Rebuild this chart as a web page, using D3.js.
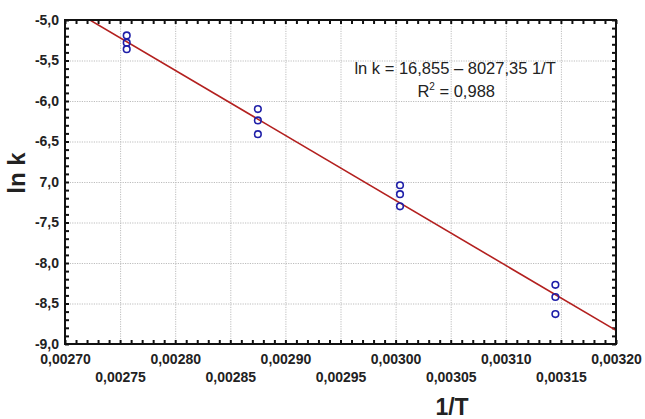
<!DOCTYPE html>
<html>
<head>
<meta charset="utf-8">
<script src="https://cdn.jsdelivr.net/npm/d3@7"></script>
<style>
  body { margin: 0; background: #fff; }
  svg { display: block; font-family: "Liberation Sans", Arial, sans-serif; }
  .lbl text { font-weight: bold; font-size: 14px; fill: #222; }
  .grid line { stroke: #bdbdbd; stroke-dasharray: 1.2,1.2; }
  .minor line { stroke: #111; stroke-width: 2; }
  .domain { display: none; }
</style>
</head>
<body>
<svg id="chart" width="645" height="419"></svg>
<script>
// measured points (1/T, ln k)
var invT = [0.002756, 0.002756, 0.002756,
            0.002875, 0.002875, 0.002875,
            0.003004, 0.003004, 0.003004,
            0.003145, 0.003145, 0.003145];
var lnK = [-5.19, -5.28, -5.36,
           -6.10, -6.24, -6.41,
           -7.04, -7.15, -7.30,
           -8.27, -8.42, -8.63];

// regression ln k = a + b * (1/T)
var fitA = 16.855, fitB = -8027.35;

var xTicks = [0.0027, 0.00275, 0.0028, 0.00285, 0.0029, 0.00295, 0.003, 0.00305, 0.0031, 0.00315, 0.0032];
var xTickLabels = ["0,00270", "0,00275", "0,00280", "0,00285", "0,00290", "0,00295",
                   "0,00300", "0,00305", "0,00310", "0,00315", "0,00320"];
var yTicks = [-9, -8.5, -8, -7.5, -7, -6.5, -6, -5.5, -5];
var yTickLabels = ["-9,0", "-8,5", "-8,0", "-7,5", "7,0", "-6,5", "-6,0", "-5,5", "-5,0"];

var svg = d3.select("#chart"),
  margin = { top: 20, right: 29, bottom: 75, left: 65 },
  width = +svg.attr("width") - margin.left - margin.right,
  height = +svg.attr("height") - margin.top - margin.bottom;

var x = d3.scaleLinear().domain([0.0027, 0.0032]).range([0, width]),
  y = d3.scaleLinear().domain([-9, -5]).range([height, 0]);

var g = svg.append("g")
  .attr("transform", "translate(" + margin.left + "," + margin.top + ")");

// dotted grid
g.append("g").attr("class", "grid")
  .attr("transform", "translate(0," + height + ")")
  .call(d3.axisBottom(x).tickValues(xTicks).tickSize(-height).tickFormat(""));
g.append("g").attr("class", "grid")
  .call(d3.axisLeft(y).tickValues(yTicks).tickSize(-width).tickFormat(""));

// minor ticks, inward on all four sides
var xMinor = d3.range(0, 51).map(function(i) { return 0.0027 + i * 0.00001; });
var yMinor = d3.range(0, 41).map(function(i) { return -9 + i * 0.1; });

g.append("g").attr("class", "minor")
  .attr("transform", "translate(0," + height + ")")
  .call(d3.axisBottom(x).tickValues(xMinor).tickSize(-4).tickFormat(""));
g.append("g").attr("class", "minor")
  .call(d3.axisTop(x).tickValues(xMinor).tickSize(-4).tickFormat(""));
g.append("g").attr("class", "minor")
  .call(d3.axisLeft(y).tickValues(yMinor).tickSize(-4).tickFormat(""));
g.append("g").attr("class", "minor")
  .attr("transform", "translate(" + width + ",0)")
  .call(d3.axisRight(y).tickValues(yMinor).tickSize(-4).tickFormat(""));

// tick labels
g.append("g").attr("class", "lbl")
  .call(d3.axisLeft(y).tickValues(yTicks).tickSize(0).tickPadding(6)
    .tickFormat(function(d, i) { return yTickLabels[i]; }))
  .selectAll("text").attr("dy", "0.3em");

var xl = g.append("g").attr("class", "lbl")
  .attr("transform", "translate(0," + height + ")")
  .call(d3.axisBottom(x).tickValues(xTicks).tickSize(0)
    .tickFormat(function(d, i) { return xTickLabels[i]; }));
xl.selectAll("text")
  .attr("y", function(d, i) { return i % 2 === 0 ? 10 : 28; })
  .attr("dy", "0.71em");

// clip for the fit line
svg.append("defs").append("clipPath").attr("id", "clip")
  .append("rect").attr("width", width).attr("height", height);

var line = d3.line()
  .x(function(d) { return x(d); })
  .y(function(d) { return y(fitA + fitB * d); });

g.append("path")
  .datum([0.0027, 0.0032])
  .attr("clip-path", "url(#clip)")
  .attr("d", line)
  .attr("fill", "none")
  .attr("stroke", "#b3201f")
  .attr("stroke-width", 1.6);

g.selectAll(".pt")
  .data(invT)
  .enter().append("circle")
  .attr("class", "pt")
  .attr("cx", function(d) { return x(d); })
  .attr("cy", function(d, i) { return y(lnK[i]); })
  .attr("r", 3.3)
  .attr("fill", "none")
  .attr("stroke", "#1f1fa8")
  .attr("stroke-width", 1.6);

// frame
g.append("rect")
  .attr("width", width).attr("height", height)
  .attr("fill", "none").attr("stroke", "#111").attr("stroke-width", 2);

// equation
var eq = g.append("g").attr("font-size", "16.5px").attr("fill", "#222")
  .attr("text-anchor", "middle");
eq.append("text").attr("x", x(0.003054)).attr("y", 54)
  .text("ln k = 16,855 \u2013 8027,35 1/T");
var r2 = eq.append("text").attr("x", x(0.003055)).attr("y", 77);
r2.append("tspan").text("R");
r2.append("tspan").attr("font-size", "10px").attr("dy", "-7").text("2");
r2.append("tspan").attr("dy", "7").text(" = 0,988");

// axis titles
svg.append("text")
  .attr("transform", "translate(25,173) rotate(-90)")
  .attr("text-anchor", "middle")
  .attr("font-weight", "bold").attr("font-size", "24px").attr("fill", "#222")
  .text("ln k");
svg.append("text")
  .attr("x", 452).attr("y", 415)
  .attr("text-anchor", "middle")
  .attr("font-weight", "bold").attr("font-size", "23px").attr("fill", "#222")
  .text("1/T");
</script>
</body>
</html>
